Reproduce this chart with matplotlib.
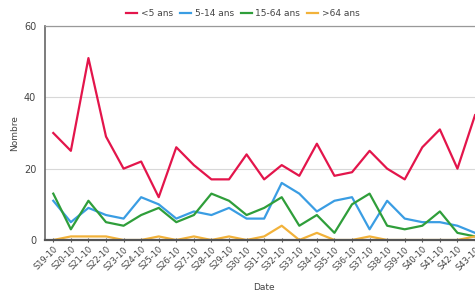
import matplotlib
matplotlib.use("Agg")
import matplotlib.pyplot as plt

weeks = [f"S{w}-10" for w in range(19, 44)]
under5 = [30, 25, 51, 29, 20, 22, 12, 26, 21, 17, 17, 24, 17, 21, 18, 27, 18, 19, 25, 20, 17, 26, 31, 20, 35]
age5_14 = [11, 5, 9, 7, 6, 12, 10, 6, 8, 7, 9, 6, 6, 16, 13, 8, 11, 12, 3, 11, 6, 5, 5, 4, 2]
age15_64 = [13, 3, 11, 5, 4, 7, 9, 5, 7, 13, 11, 7, 9, 12, 4, 7, 2, 10, 13, 4, 3, 4, 8, 2, 1]
over64 = [0, 1, 1, 1, 0, 0, 1, 0, 1, 0, 1, 0, 1, 4, 0, 2, 0, 0, 1, 0, 0, 0, 0, 0, 1]

series = [("<5 ans", under5, "#e3154b"),
          ("5-14 ans", age5_14, "#3a9de3"),
          ("15-64 ans", age15_64, "#2f9e3a"),
          (">64 ans", over64, "#f2b23a")]

fig = plt.figure(figsize=(4.75, 2.96), dpi=100)
ax = fig.add_axes([44.5/475, 56/296, (483.8-44.5)/475, (240-26)/296])
x = list(range(len(weeks)))
handles = []
for name, vals, col in series:
    h, = ax.plot(x, vals, color=col, lw=1.6, label=name, zorder=3)
    handles.append(h)

ax.set_xlim(-0.5, 24.5)
ax.set_ylim(0, 60)
ax.set_yticks([0, 20, 40, 60])
ax.set_xticks(x)
ax.set_xticklabels(weeks, rotation=45, ha="right", rotation_mode="anchor", fontsize=6, color="#444444")
ax.tick_params(axis="y", labelsize=7, colors="#444444", length=0, pad=6)
ax.tick_params(axis="x", length=3, width=0.8, color="#555555", direction="inout", pad=2)
ax.grid(axis="y", color="#d8d8d8", lw=0.8)
ax.set_axisbelow(True)
for s in ["top", "right"]:
    ax.spines[s].set_color("#999999")
    ax.spines[s].set_linewidth(0.9)
ax.spines["left"].set_color("#666666")
ax.spines["left"].set_linewidth(1.2)
ax.spines["bottom"].set_color("#555555")
ax.spines["bottom"].set_linewidth(1.6)
ax.spines["bottom"].set_zorder(4)

ax.set_xlabel("Date", fontsize=6.5, color="#444444", labelpad=8)
fig.text(15/475, 1 - 133/296, "Nombre", rotation=90, fontsize=6.5, color="#444444", ha="center", va="center")

fig.legend(handles=handles, loc="center", bbox_to_anchor=(243/475, 1 - 14/296), ncol=4,
           frameon=False, fontsize=6.5, handlelength=1.2, handletextpad=0.4, columnspacing=0.8,
           labelcolor="#444444")

fig.savefig("out.png", dpi=100)
